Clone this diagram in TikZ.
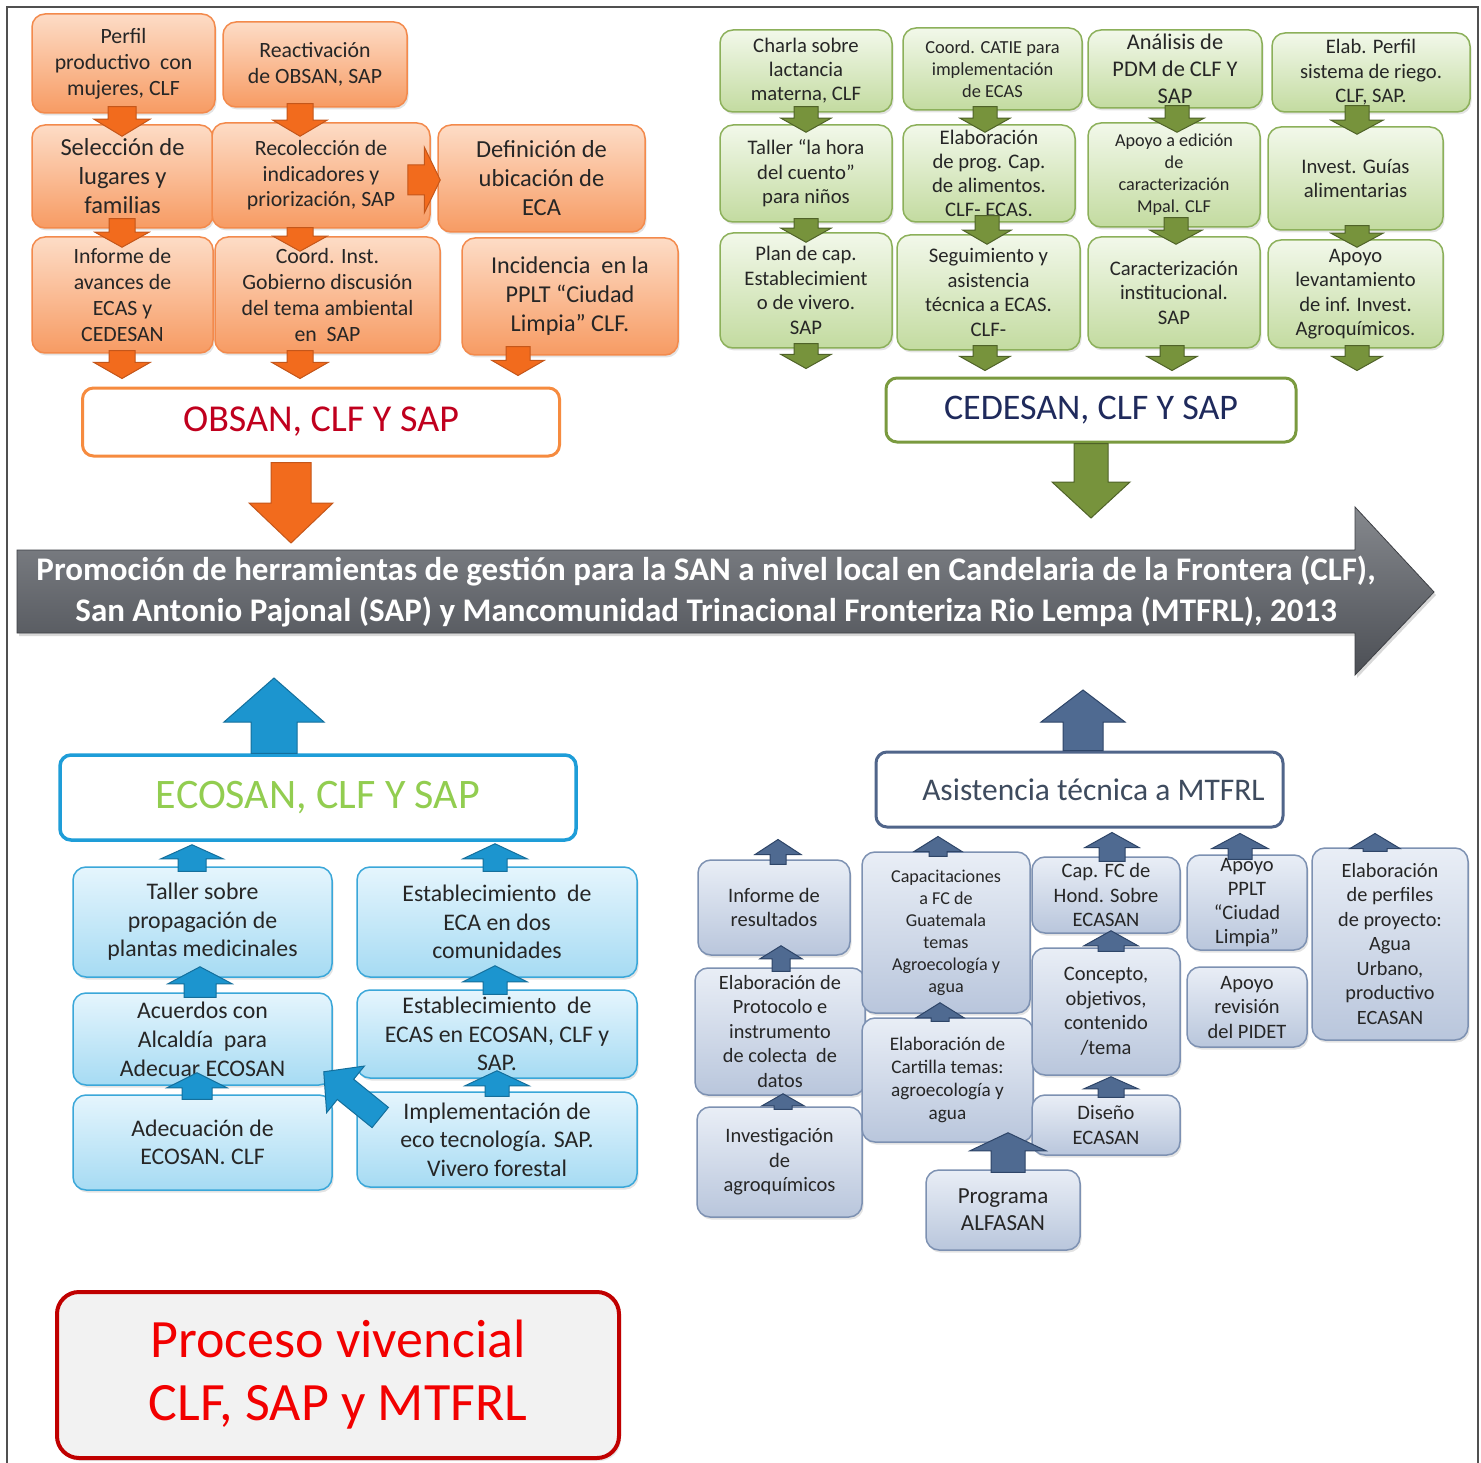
\documentclass[tikz,border=0pt]{standalone}
\usepackage{fontspec}
\setmainfont{Carlito}
\usetikzlibrary{calc,shadows}
\definecolor{txt}{HTML}{262626}
\definecolor{otop}{HTML}{FDDCC6}
\definecolor{obot}{HTML}{F79B63}
\definecolor{oedge}{HTML}{F38A4C}
\definecolor{oaf}{HTML}{F26B1D}
\definecolor{oad}{HTML}{C4561A}
\definecolor{gtop}{HTML}{F2F8EA}
\definecolor{gbot}{HTML}{C3DBA0}
\definecolor{gedge}{HTML}{8CB05A}
\definecolor{gaf}{HTML}{77933C}
\definecolor{gad}{HTML}{4F6228}
\definecolor{btop}{HTML}{E5F5FD}
\definecolor{bbot}{HTML}{A6DBF3}
\definecolor{bedge}{HTML}{3AA7D9}
\definecolor{baf}{HTML}{1C95CF}
\definecolor{bad}{HTML}{146F9C}
\definecolor{stop}{HTML}{E9EEF6}
\definecolor{sbot}{HTML}{B9C6DC}
\definecolor{sedge}{HTML}{7D91B2}
\definecolor{saf}{HTML}{4F6A91}
\definecolor{sad}{HTML}{2E4568}
\definecolor{obsanedge}{HTML}{F68B3F}
\definecolor{obsantxt}{HTML}{C0001E}
\definecolor{cededge}{HTML}{7A9A3F}
\definecolor{cedtxt}{HTML}{1F2A5C}
\definecolor{ecoedge}{HTML}{1E9DD8}
\definecolor{ecotxt}{HTML}{92CD50}
\definecolor{asisedge}{HTML}{50658A}
\definecolor{asistxt}{HTML}{3E4B5E}
\definecolor{procedge}{HTML}{C00000}
\definecolor{proctxt}{HTML}{F20000}
\definecolor{procfill}{HTML}{F2F2F2}
\definecolor{mtop}{HTML}{85888D}
\definecolor{mbot}{HTML}{4C4F55}
\definecolor{framec}{HTML}{505050}

\tikzset{
  fs/.style 2 args={font=\fontsize{#1}{#2}\selectfont},
  box/.style={rounded corners=13pt, line width=1.5pt, align=center, inner sep=1pt,
    text=txt, drop shadow={opacity=0.22, shadow xshift=1.5pt, shadow yshift=-2.5pt}},
  obox/.style={box, draw=oedge, top color=otop, bottom color=obot},
  gbox/.style={box, draw=gedge, top color=gtop, bottom color=gbot},
  bbox/.style={box, draw=bedge, top color=btop, bottom color=bbot},
  sbox/.style={box, draw=sedge, top color=stop, bottom color=sbot},
  headbox/.style={rounded corners=11pt, line width=3pt, fill=white, align=center},
  oarr/.style={fill=oaf, draw=oad, line width=1pt},
  garr/.style={fill=gaf, draw=gad, line width=1pt},
  barr/.style={fill=baf, draw=bad, line width=1pt},
  sarr/.style={fill=saf, draw=sad, line width=1pt},
  frame/.style={draw=framec, line width=1.3pt},
}

% block arrow: #1 style, #2 tail, #3 tip, #4 half shaft, #5 half head, #6 head length
\newcommand{\blockarr}[6]{%
  \coordinate (ba-t) at #2;
  \coordinate (ba-h) at #3;
  \coordinate (ba-n) at ($(ba-h)!#6!(ba-t)$);
  \path[#1] ($(ba-t)!#4!90:(ba-h)$) -- ($(ba-n)!#4!-90:(ba-t)$) -- ($(ba-n)!#5!-90:(ba-t)$)
    -- (ba-h) -- ($(ba-n)!#5!90:(ba-t)$) -- ($(ba-n)!#4!90:(ba-t)$) -- ($(ba-t)!#4!-90:(ba-h)$) -- cycle;
}
% vertical block arrow at x=#2 from anchor #3 (+dy #4) to anchor #5 (+dy #6)
\newcommand{\varrow}[9]{\blockarr{#1}{($(#3 -| #2,0)+(0,#4)$)}{($(#5 -| #2,0)+(0,#6)$)}{#7}{#8}{#9}}

\begin{document}
\begin{tikzpicture}[x=1pt,y=-1pt]
\useasboundingbox (0,0) rectangle (1481,1463);
\fill[white] (0,0) rectangle (1481,1463);
\draw[frame] (7,1463) -- (7,7) -- (1478,7) -- (1478,1463);

% ---------------- orange group ----------------
\node[obox, fs={21.8}{26}, minimum width=183pt, minimum height=99pt] (o1) at (123.5,63.5) {Perfil\\productivo~ con\\mujeres, CLF};
\node[obox, fs={21.8}{26}, minimum width=184pt, minimum height=85pt] (o2) at (315,64.5) {Reactivación\\de OBSAN, SAP};
\node[obox, fs={24.5}{29}, minimum width=181pt, minimum height=103pt] (o3) at (122.5,176.5) {Selección de\\lugares y\\familias};
\node[obox, fs={21.8}{25.5}, minimum width=218pt, minimum height=105pt] (o4) at (321,175.5) {Recolección de\\indicadores y\\priorización, SAP};
\node[obox, fs={24.5}{29}, minimum width=207pt, minimum height=107pt] (o5) at (541.5,178.5) {Definición de\\ubicación de\\ECA};
\node[obox, fs={21.8}{26}, minimum width=181pt, minimum height=116pt] (o6) at (122.5,295) {Informe de\\avances de\\ECAS y\\CEDESAN};
\node[obox, fs={21.8}{26}, minimum width=225pt, minimum height=116pt] (o7) at (327.5,295) {Coord. Inst.\\Gobierno discusión\\del tema ambiental\\en~ SAP};
\node[obox, fs={24.2}{29}, minimum width=216pt, minimum height=117pt] (o8) at (570,296.5) {Incidencia~ en la\\PPLT “Ciudad\\Limpia” CLF.};
\node[headbox, draw=obsanedge, text=obsantxt, fs={38}{44}, minimum width=477pt, minimum height=68pt] (obsan) at (321,422) {OBSAN, CLF Y SAP};

% ---------------- green group ----------------
\node[gbox, fs={20.7}{24}, minimum width=172pt, minimum height=82pt] (g1) at (806,71) {Charla sobre\\lactancia\\materna, CLF};
\node[gbox, fs={18.4}{22}, minimum width=179pt, minimum height=82pt] (g2) at (992.5,69) {Coord. CATIE para\\implementación\\de ECAS};
\node[gbox, fs={22.4}{27}, minimum width=174pt, minimum height=78pt] (g7) at (1175,69) {Análisis de\\PDM de CLF Y\\SAP};
\node[gbox, fs={20.6}{24.5}, minimum width=198pt, minimum height=79pt] (g8) at (1371,72.5) {Elab. Perfil\\sistema de riego.\\CLF, SAP.};
\node[gbox, fs={20.7}{24.5}, minimum width=172pt, minimum height=97pt] (g3) at (806,173.5) {Taller “la hora\\del cuento”\\para niños};
\node[gbox, fs={20.7}{24}, minimum width=172pt, minimum height=97pt] (g4) at (989,173.5) {Elaboración\\de prog. Cap.\\de alimentos.\\CLF- ECAS.};
\node[gbox, fs={18.2}{22}, minimum width=172pt, minimum height=104pt] (g9) at (1174,175) {Apoyo a edición\\de\\caracterización\\Mpal. CLF};
\node[gbox, fs={20.7}{24.5}, minimum width=175pt, minimum height=103pt] (g10) at (1355.5,178.5) {Invest. Guías\\alimentarias};
\node[gbox, fs={20.7}{24.5}, minimum width=172pt, minimum height=115pt] (g5) at (806,290.5) {Plan de cap.\\Establecimient\\o de vivero.\\SAP};
\node[gbox, fs={20.7}{24.5}, minimum width=183pt, minimum height=115pt] (g6) at (988.5,292.5) {Seguimiento y\\asistencia\\técnica a ECAS.\\CLF-};
\node[gbox, fs={20.7}{24.5}, minimum width=172pt, minimum height=111pt] (g11) at (1174,292.5) {Caracterización\\institucional.\\SAP};
\node[gbox, fs={20.6}{24.5}, minimum width=175pt, minimum height=108pt] (g12) at (1355.5,294) {Apoyo\\levantamiento\\de inf. Invest.\\Agroquímicos.};
\node[headbox, draw=cededge, text=cedtxt, fs={36}{42}, minimum width=410pt, minimum height=64pt] (cedesan) at (1091,410) {CEDESAN, CLF Y SAP};

% ---------------- main arrow ----------------
\coordinate (m-tl) at (17,550);
\coordinate (m-bl) at (17,633);
\path[top color=mtop, bottom color=mbot, draw=mbot!80!black, line width=0.8pt,
  drop shadow={opacity=0.3, shadow xshift=2pt, shadow yshift=-3pt}]
  (17,550) -- (1355,550) -- (1355,507) -- (1434,592) -- (1355,675) -- (1355,633) -- (17,633) -- cycle;
\node[font={\fontsize{33}{41}\selectfont\bfseries}, text=white, align=center] (main) at (706,592)
  {Promoción de herramientas de gestión para la SAN a nivel local en Candelaria de la Frontera (CLF),\\
   San Antonio Pajonal (SAP) y Mancomunidad Trinacional Fronteriza Rio Lempa (MTFRL), 2013};

% ---------------- blue group ----------------
\node[headbox, draw=ecoedge, line width=3.5pt, text=ecotxt, fs={42}{48}, minimum width=516pt, minimum height=85pt] (ecosan) at (318,797.5) {ECOSAN, CLF Y SAP};
\node[bbox, fs={23.8}{28.5}, minimum width=259pt, minimum height=110pt] (b1) at (202.5,922) {Taller sobre\\propagación de\\plantas medicinales};
\node[bbox, fs={23.8}{29}, minimum width=259pt, minimum height=92pt] (b2) at (202.5,1039) {Acuerdos con\\Alcaldía~ para\\Adecuar ECOSAN};
\node[bbox, fs={23.8}{28.5}, minimum width=259pt, minimum height=95pt] (b3) at (202.5,1142.5) {Adecuación de\\ECOSAN. CLF};
\node[bbox, fs={23.8}{28.5}, minimum width=280pt, minimum height=110pt] (b4) at (497,922) {Establecimiento~ de\\ECA en dos\\comunidades};
\node[bbox, fs={23.8}{28.5}, minimum width=280pt, minimum height=88pt] (b5) at (497,1034) {Establecimiento~ de\\ECAS en ECOSAN, CLF y\\SAP.};
\node[bbox, fs={23.8}{28.5}, minimum width=280pt, minimum height=95pt] (b6) at (497,1139.5) {Implementación de\\eco tecnología. SAP.\\Vivero forestal};

% ---------------- slate group ----------------
\node[headbox, draw=asisedge, text=asistxt, fs={31.5}{36}, minimum width=407pt, minimum height=75pt] (asis) at (1079.5,789.5) {\hspace*{28pt}Asistencia técnica a MTFRL};
\node[sbox, fs={20.5}{24}, minimum width=152pt, minimum height=95pt] (s1) at (774,907.5) {Informe de\\resultados};
\node[sbox, fs={20.3}{24.5}, minimum width=170pt, minimum height=127pt] (s2) at (780,1031.5) {Elaboración de\\Protocolo e\\instrumento\\de colecta~ de\\datos};
\node[sbox, fs={20.5}{24.5}, minimum width=165pt, minimum height=110pt] (s3) at (779.5,1162) {Investigación\\de\\agroquímicos};
\node[sbox, fs={18.1}{22}, minimum width=168pt, minimum height=161pt] (s4) at (946,932.5) {Capacitaciones\\a FC de\\Guatemala\\temas\\Agroecología y\\agua};
\node[sbox, fs={19.2}{23}, minimum width=171pt, minimum height=124pt] (s5) at (947.5,1080) {Elaboración de\\Cartilla temas:\\agroecología y\\agua};
\node[sbox, fs={23}{27}, minimum width=154pt, minimum height=80pt] (s6) at (1003,1210) {Programa\\ALFASAN};
\node[sbox, fs={20.5}{24.5}, minimum width=148pt, minimum height=76pt] (s7) at (1106,895) {Cap. FC de\\Hond. Sobre\\ECASAN};
\node[sbox, fs={20.5}{24.5}, minimum width=148pt, minimum height=127pt] (s8) at (1106,1011.5) {Concepto,\\objetivos,\\contenido\\/tema};
\node[sbox, fs={20.5}{25}, minimum width=148pt, minimum height=60pt] (s9) at (1106,1125) {Diseño\\ECASAN};
\node[sbox, fs={20.5}{24}, minimum width=120pt, minimum height=95pt] (s10) at (1247,902.5) {Apoyo\\PPLT\\“Ciudad\\Limpia”};
\node[sbox, fs={20.5}{24.5}, minimum width=120pt, minimum height=80pt] (s11) at (1247,1007) {Apoyo\\revisión\\del PIDET};
\node[sbox, fs={20.3}{24.5}, minimum width=156pt, minimum height=192pt] (s12) at (1390,944) {Elaboración\\de perfiles\\de proyecto:\\Agua\\Urbano,\\productivo\\ECASAN};

% ---------------- proceso ----------------
\node[rounded corners=22pt, line width=4pt, draw=procedge, fill=procfill, text=proctxt,
  fs={54}{63}, align=center, minimum width=562pt, minimum height=166pt,
  drop shadow={opacity=0.2, shadow xshift=2pt, shadow yshift=-3pt}] (proc) at (338,1375)
  {Proceso vivencial\\CLF, SAP y MTFRL};

% ---------------- orange arrows ----------------
\varrow{oarr}{122}{o1.south}{-7}{o3.north}{12}{14pt}{28pt}{17pt}
\varrow{oarr}{300}{o2.south}{-4}{o4.north}{14}{13pt}{27pt}{16pt}
\varrow{oarr}{122}{o3.south}{-10}{o6.north}{11}{13pt}{27pt}{15pt}
\varrow{oarr}{300}{o4.south}{-1}{o7.north}{15}{13pt}{27pt}{15pt}
\blockarr{oarr}{($(o4.east)+(-23,4.5)$)}{($(o5.west)+(3,1.5)$)}{15pt}{33pt}{16pt}
\varrow{oarr}{122}{o6.south}{-3}{obsan.north}{-8}{13pt}{28pt}{16pt}
\varrow{oarr}{300}{o7.south}{-3}{obsan.north}{-8}{13pt}{28pt}{16pt}
\varrow{oarr}{518}{o8.south}{-9}{obsan.north}{-11}{12pt}{26pt}{15pt}
\varrow{oarr}{291}{obsan.south}{5}{m-tl}{-7}{20pt}{42pt}{40pt}

% ---------------- green arrows ----------------
\varrow{garr}{806}{g1.south}{-6}{g3.north}{8}{12pt}{25pt}{14pt}
\varrow{garr}{806}{g3.south}{-4}{g5.north}{10}{12pt}{25pt}{14pt}
\varrow{garr}{806}{g5.south}{-5}{cedesan.north}{-8}{12pt}{25pt}{14pt}
\varrow{garr}{985}{g2.south}{-4}{g4.north}{8}{12pt}{25pt}{14pt}
\varrow{garr}{987}{g4.south}{-7}{g6.north}{10}{12pt}{24pt}{14pt}
\varrow{garr}{985}{g6.south}{-5}{cedesan.north}{-6}{12pt}{25pt}{14pt}
\varrow{garr}{1177}{g7.south}{-3}{g9.north}{10}{12pt}{27pt}{14pt}
\varrow{garr}{1176}{g9.south}{-10}{g11.north}{8}{12pt}{26pt}{14pt}
\varrow{garr}{1172}{g11.south}{-3}{cedesan.north}{-6}{12pt}{25pt}{14pt}
\varrow{garr}{1357}{g8.south}{-7}{g10.north}{8}{12pt}{26pt}{14pt}
\varrow{garr}{1357}{g10.south}{-5}{g12.north}{8}{12pt}{26pt}{14pt}
\varrow{garr}{1357}{g12.south}{-3}{cedesan.north}{-6}{12pt}{25pt}{14pt}
\varrow{garr}{1091}{cedesan.south}{0}{m-tl}{-32}{17pt}{39pt}{36pt}

% ---------------- blue arrows ----------------
\varrow{barr}{274}{ecosan.north}{0}{m-bl}{45}{23pt}{50pt}{44pt}
\varrow{barr}{192}{b1.north}{5}{ecosan.south}{3}{14pt}{31pt}{14pt}
\varrow{barr}{200}{b2.north}{5}{b1.south}{-11}{16pt}{32pt}{17pt}
\varrow{barr}{197}{b3.north}{5}{b2.south}{-13}{15pt}{30pt}{15pt}
\varrow{barr}{495}{b4.north}{5}{ecosan.south}{2}{12pt}{32pt}{15pt}
\varrow{barr}{495}{b5.north}{5}{b4.south}{-12}{12pt}{32pt}{16pt}
\varrow{barr}{497}{b6.north}{5}{b5.south}{-8}{12pt}{32pt}{15pt}
\blockarr{barr}{($(b6.west)+(24,-22)$)}{($(b2.south east)+(-9,-14)$)}{13pt}{30pt}{28pt}

% ---------------- slate arrows ----------------
\varrow{sarr}{1083}{asis.north}{0}{m-bl}{57}{20pt}{42pt}{32pt}
\varrow{sarr}{778}{s1.north}{5}{asis.south}{11}{8pt}{23pt}{15pt}
\varrow{sarr}{781}{s2.north}{4}{s1.south}{-10}{9pt}{21pt}{13pt}
\varrow{sarr}{783}{s3.north}{3}{s2.south}{-2}{9pt}{21pt}{12pt}
\varrow{sarr}{938}{s4.north}{5}{asis.south}{8}{9pt}{24pt}{15pt}
\varrow{sarr}{940}{s5.north}{4}{s4.south}{-11}{9pt}{24pt}{15pt}
\varrow{sarr}{1008}{s6.north}{3}{s5.south}{-10}{17pt}{38pt}{18pt}
\varrow{sarr}{1112}{s7.north}{5}{asis.south}{4}{13pt}{27pt}{15pt}
\varrow{sarr}{1111}{s8.north}{4}{s7.south}{-3}{13pt}{27pt}{15pt}
\varrow{sarr}{1111}{s9.north}{3}{s8.south}{1}{13pt}{27pt}{12pt}
\varrow{sarr}{1240}{s10.north}{5}{asis.south}{5}{12pt}{28pt}{15pt}
\varrow{sarr}{1375}{s12.north}{4}{asis.south}{5}{12pt}{25pt}{15pt}
\end{tikzpicture}
\end{document}
